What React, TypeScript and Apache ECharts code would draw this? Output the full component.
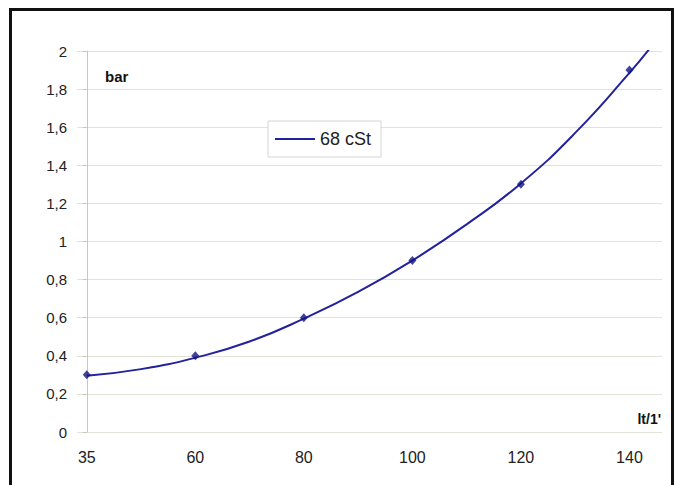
import React, { useEffect, useRef } from "react";
import * as echarts from "echarts";

// Category labels on the x axis (equally spaced positions 0..5)
const xLabels = ["35", "60", "80", "100", "120", "140"];
const xPositions = [0, 1, 2, 3, 4, 5];
// Measured points (bar)
const pointValues = [0.3, 0.4, 0.6, 0.9, 1.3, 1.9];
// Trend curve (position, bar)
const trendPositions = [0, 0.5, 1, 1.5, 2, 2.5, 3, 3.5, 4, 4.5, 5, 5.21];
const trendValues = [0.295, 0.33, 0.39, 0.475, 0.595, 0.735, 0.9, 1.09, 1.305, 1.57, 1.885, 2.03];
// Y tick labels (0 .. 2 step 0,2)
const yTickLabels = ["0", "0,2", "0,4", "0,6", "0,8", "1", "1,2", "1,4", "1,6", "1,8", "2"];

const seriesName = "68 cSt";
const yUnit = "bar";
const xUnit = "lt/1'";

export default function App() {
  const ref = useRef<HTMLDivElement>(null);

  useEffect(() => {
    if (!ref.current) return;
    const chart = echarts.init(ref.current, undefined, { renderer: "svg" });
    const font = "'Liberation Sans', Arial, sans-serif";
    chart.setOption({
      animation: false,
      backgroundColor: "#ffffff",
      textStyle: { fontFamily: font },
      grid: { left: 77, right: 19, top: 51, bottom: 53, outerBoundsMode: "none" },
      legend: {
        data: [{ name: seriesName, icon: "rect" }],
        left: 268,
        top: 121,
        orient: "vertical",
        padding: [8, 10, 8, 7],
        itemWidth: 40,
        itemHeight: 2,
        itemGap: 0,
        borderColor: "#d4d4d4",
        borderWidth: 1,
        backgroundColor: "#ffffff",
        textStyle: { fontSize: 18, color: "#222", fontFamily: font, lineHeight: 20 },
        selectedMode: false,
      },
      xAxis: {
        type: "value",
        min: -0.09,
        max: 5.3,
        axisLine: { show: false },
        axisTick: { show: false },
        splitLine: { show: false },
        axisLabel: {
          customValues: xPositions,
          formatter: (v: number) => xLabels[Math.round(v)] ?? "",
          margin: 17,
          fontSize: 16,
          color: "#222",
          fontFamily: font,
        },
      },
      yAxis: {
        type: "value",
        min: 0,
        max: 2,
        interval: 0.2,
        axisLine: { show: true, lineStyle: { color: "#c8c8bc", width: 1 } },
        axisTick: { show: true, length: 4, lineStyle: { color: "#c8c8bc" } },
        splitLine: { show: true, lineStyle: { color: "#e2e2d6", width: 1 } },
        axisLabel: {
          formatter: (v: number) => yTickLabels[Math.round(v / 0.2)] ?? "",
          margin: 10,
          fontSize: 15,
          color: "#222",
          fontFamily: font,
        },
      },
      series: [
        {
          name: seriesName,
          type: "line",
          data: trendPositions.map((p, i) => [p, trendValues[i]]),
          smooth: 0.5,
          symbol: "none",
          lineStyle: { color: "#22229c", width: 2 },
          itemStyle: { color: "#22229c" },
          z: 2,
        },
        {
          name: "points",
          type: "scatter",
          data: xPositions.map((p, i) => [p, pointValues[i]]),
          symbol: "diamond",
          symbolSize: [8, 9],
          itemStyle: { color: "#141482" },
          z: 3,
        },
      ],
      graphic: [
        {
          type: "rect",
          shape: { x: 10.5, y: 9.5, width: 662, height: 520 },
          style: { fill: "none", stroke: "#111111", lineWidth: 3 },
          silent: true,
        },
        {
          type: "text",
          x: 105,
          y: 69,
          style: {
            text: yUnit,
            fontFamily: font,
            fontWeight: "bold",
            fontSize: 15,
            fill: "#111",
          },
        },
        {
          type: "text",
          x: 661,
          y: 412,
          style: {
            text: xUnit,
            fontFamily: font,
            fontWeight: "bold",
            fontSize: 14,
            fill: "#111",
            textAlign: "right",
          },
        },
      ],
    });
    return () => chart.dispose();
  }, []);

  return (
    <div
      ref={ref}
      style={{ position: "fixed", left: 0, top: 0, width: 681, height: 485 }}
    />
  );
}
